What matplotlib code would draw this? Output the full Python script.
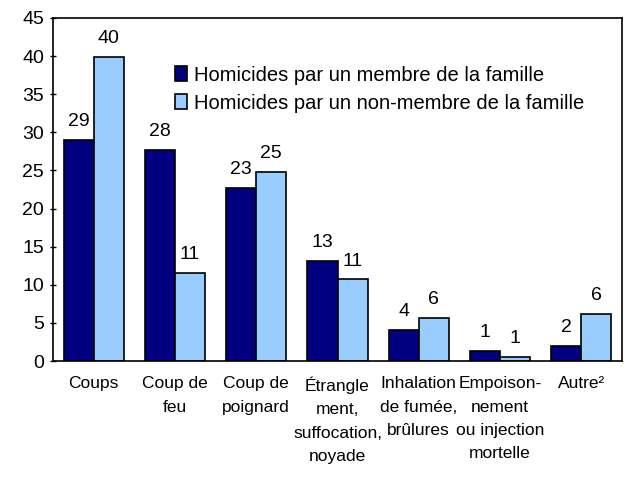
import numpy as np
import matplotlib
matplotlib.use("Agg")
import matplotlib.pyplot as plt

plt.rcParams['font.family'] = ['Liberation Sans', 'DejaVu Sans']

categories = ["Coups", "Coup de\nfeu", "Coup de\npoignard",
              "Étrangle\nment,\nsuffocation,\nnoyade",
              "Inhalation\nde fumée,\nbrûlures",
              "Empoison-\nnement\nou injection\nmortelle", "Autre²"]
famille = [29.0, 27.7, 22.7, 13.1, 4.1, 1.3, 2.0]
non_famille = [39.9, 11.5, 24.8, 10.7, 5.7, 0.5, 6.2]
famille_lbl = ["29", "28", "23", "13", "4", "1", "2"]
non_famille_lbl = ["40", "11", "25", "11", "6", "1", "6"]
yticks = list(range(0, 50, 5))

fig = plt.figure(figsize=(6.37, 4.87), dpi=100)
ax = fig.add_axes([53/637, 1 - 361/487, 569/637, 343/487])

x = np.arange(len(categories))
w = 0.37
ax.bar(x - w/2, famille, w, color='#000080', edgecolor='black', linewidth=1.2,
       label="Homicides par un membre de la famille")
ax.bar(x + w/2, non_famille, w, color='#99ccff', edgecolor='black', linewidth=1.2,
       label="Homicides par un non-membre de la famille")

for i in range(len(x)):
    ax.text(x[i] - w/2, famille[i] + 1.3, famille_lbl[i], ha='center', va='bottom', fontsize=14)
    ax.text(x[i] + w/2, non_famille[i] + 1.3, non_famille_lbl[i], ha='center', va='bottom', fontsize=14)

ax.set_xlim(-0.5, len(categories) - 0.5)
ax.set_ylim(0, 45)
ax.set_yticks(yticks)
ax.tick_params(axis='y', labelsize=14, length=5, width=1, direction='inout', pad=4)
ax.set_xticks(x)
ax.set_xticklabels(categories, fontsize=12.5, linespacing=1.7, va='top')
ax.tick_params(axis='x', length=0, pad=11)
for s in ax.spines.values():
    s.set_linewidth(1.2)

ax.legend(loc='upper left', bbox_to_anchor=(0.2, 0.885), frameon=False, fontsize=14.5,
          handlelength=0.6, handleheight=0.7, handletextpad=0.35, labelspacing=0.45,
          borderaxespad=0)

fig.savefig("out.png", dpi=100)
